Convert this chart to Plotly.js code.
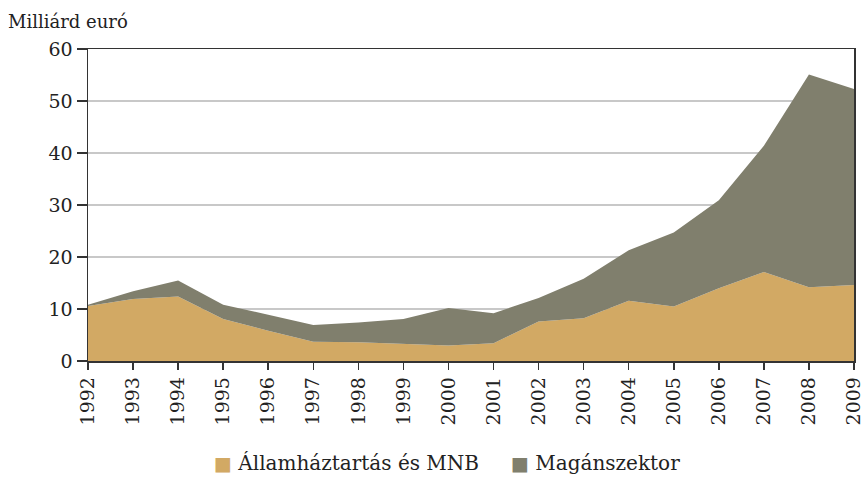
<!DOCTYPE html>
<html>
<head>
<meta charset="utf-8">
<script src="https://cdn.plot.ly/plotly-3.0.1.min.js"></script>
<style>html,body{margin:0;padding:0;background:#fff;}#chart{width:867px;height:479px;}</style>
</head>
<body>
<div id="chart"></div>
<script>
const years = [1992,1993,1994,1995,1996,1997,1998,1999,2000,2001,2002,2003,2004,2005,2006,2007,2008,2009];
const allam = [10.6,11.9,12.4,8.1,5.8,3.7,3.6,3.3,3.0,3.4,7.6,8.2,11.6,10.5,14.0,17.1,14.2,14.6];
const total  = [10.8,13.4,15.5,10.8,8.9,6.9,7.4,8.1,10.2,9.2,12.1,15.8,21.3,24.7,30.9,41.4,55.1,52.3];
const magan = total.map((t,i)=> +(t - allam[i]).toFixed(2));
const seriesNames = ['Államháztartás és MNB','Magánszektor'];
const colors = ['#D2A964','#807F6D'];
const yTicks = [0,10,20,30,40,50,60];

const fam = 'DejaVu Serif';
const font = {family:fam, size:19, color:'#222'};
const L = 88, R = 13, T = 49, B = 118;
const pw = 867 - L - R, ph = 479 - T - B;

const traces = [
  {x:years, y:allam, name:seriesNames[0], type:'scatter', mode:'lines', stackgroup:'one',
   line:{width:0, color:colors[0]}, fillcolor:colors[0], showlegend:false, hoverinfo:'skip'},
  {x:years, y:magan, name:seriesNames[1], type:'scatter', mode:'lines', stackgroup:'one',
   line:{width:0, color:colors[1]}, fillcolor:colors[1], showlegend:false, hoverinfo:'skip'}
];

const legFont = {family:fam, size:20, color:'#222'};
const layout = {
  width:867, height:479,
  margin:{l:L, r:R, t:T, b:B},
  paper_bgcolor:'#fff', plot_bgcolor:'#fff',
  font:font,
  showlegend:false,
  xaxis:{
    range:[years[0], years[years.length-1]],
    tickvals:years, ticktext:years.map(String),
    tickangle:-90,
    ticks:'outside', ticklen:7, tickwidth:1.5, tickcolor:'#333',
    showline:true, linecolor:'#333', linewidth:1.5, mirror:true,
    showgrid:false, zeroline:false,
    ticklabeloverflow:'allow',
    tickfont:font
  },
  yaxis:{
    range:[0,60],
    tickvals:yTicks,
    ticks:'outside', ticklen:10, tickwidth:1.5, tickcolor:'#333',
    showline:true, linecolor:'#333', linewidth:1.5, mirror:true,
    showgrid:true, gridcolor:'#c8c8c8', gridwidth:1.5,
    zeroline:false,
    tickfont:font
  },
  annotations:[
    {xref:'paper', yref:'paper', x:-82/pw, y:1+(T-21)/ph, xanchor:'left', yanchor:'middle',
     text:'Milliárd euró', showarrow:false, font:{family:fam, size:18, color:'#222'}},
    {xref:'paper', yref:'paper', x:(212-L)/pw, y:-(463-361)/ph, xanchor:'left', yanchor:'middle',
     text:'<span style="color:'+colors[0]+'; font-size:19px">■</span> '+seriesNames[0], showarrow:false, font:legFont},
    {xref:'paper', yref:'paper', x:(509-L)/pw, y:-(463-361)/ph, xanchor:'left', yanchor:'middle',
     text:'<span style="color:'+colors[1]+'; font-size:19px">■</span> '+seriesNames[1], showarrow:false, font:legFont}
  ]
};

Plotly.newPlot('chart', traces, layout, {displayModeBar:false, staticPlot:true});
</script>
</body>
</html>
